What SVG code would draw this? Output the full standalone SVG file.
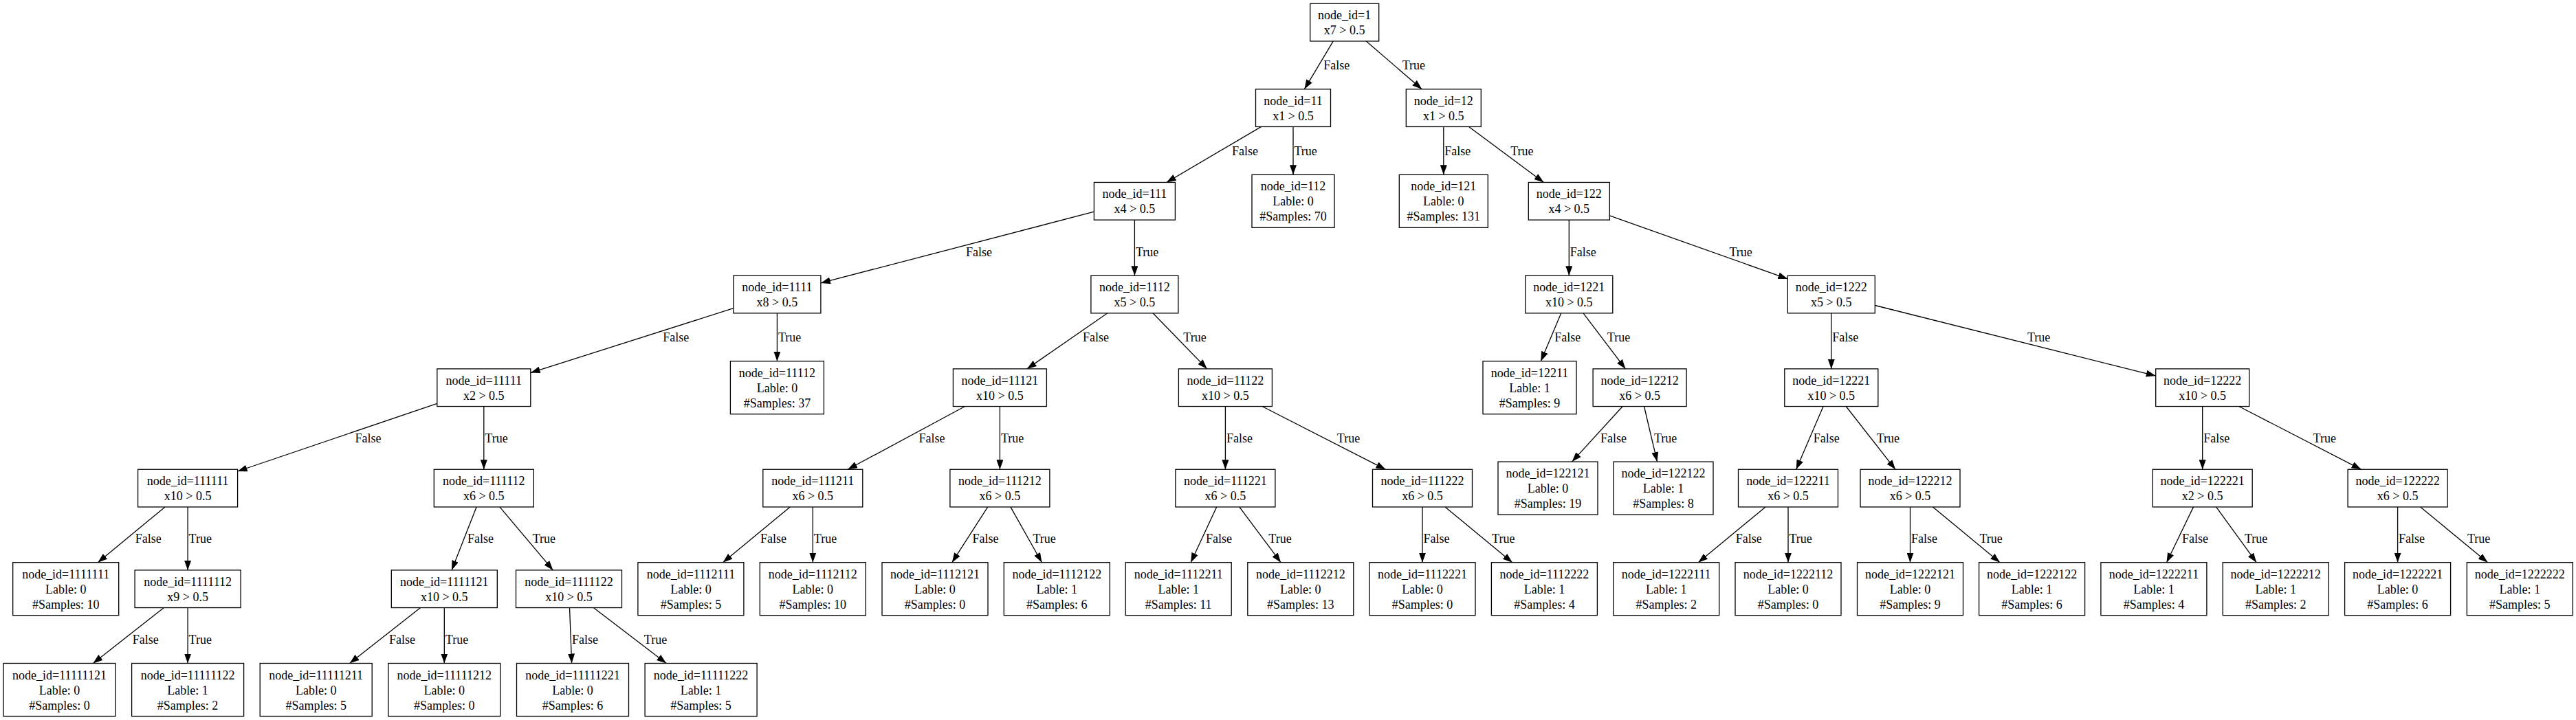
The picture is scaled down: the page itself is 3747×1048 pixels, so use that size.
<svg xmlns="http://www.w3.org/2000/svg" width="3747" height="1048" viewBox="0 0 3747 1048">
<style>
text{font-family:"Liberation Serif","Times New Roman",serif;font-size:18px;fill:#000}
.n rect{fill:#fff;stroke:#000;stroke-width:1.3}
.n text{text-anchor:middle}
#edges line{stroke:#000;stroke-width:1.3;marker-end:url(#arr)}
</style>
<defs>
<marker id="arr" markerUnits="userSpaceOnUse" markerWidth="14" markerHeight="10" refX="14" refY="5" orient="auto" viewBox="0 0 14 10"><path d="M0,0 L14,5 L0,10 z" fill="#000"/></marker>
</defs>
<rect width="3747" height="1048" fill="#fff"/>
<g id="edges">
<line x1="1939.3" y1="59.9" x2="1897.4" y2="129.8"/><text x="1925.2" y="101.4">False</text>
<line x1="1987.3" y1="59.9" x2="2068.2" y2="129.8"/><text x="2039.7" y="101.4">True</text>
<line x1="1834.6" y1="184.4" x2="1696.8" y2="265.5"/><text x="1791.9" y="225.9">False</text>
<line x1="1881" y1="184.4" x2="1881" y2="254.3"/><text x="1882.5" y="225.9">True</text>
<line x1="2099.8" y1="184.4" x2="2099.8" y2="254.3"/><text x="2101.3" y="225.9">False</text>
<line x1="2136.6" y1="184.4" x2="2245.5" y2="265.5"/><text x="2197.2" y="225.9">True</text>
<line x1="1591.4" y1="308.2" x2="1193.9" y2="411.9"/><text x="1405.1" y="372.7">False</text>
<line x1="1650.4" y1="320.1" x2="1650.4" y2="401.2"/><text x="1651.9" y="372.7">True</text>
<line x1="2282.3" y1="320.1" x2="2282.3" y2="401.2"/><text x="2283.8" y="372.7">False</text>
<line x1="2341.3" y1="313.8" x2="2600.3" y2="405.9"/><text x="2515.4" y="372.7">True</text>
<line x1="1066.9" y1="448.7" x2="771.8" y2="542.6"/><text x="964.3" y="497.3">False</text>
<line x1="1130.4" y1="455.8" x2="1130.4" y2="525.7"/><text x="1131.9" y="497.3">True</text>
<line x1="1610.9" y1="455.8" x2="1493.9" y2="536.9"/><text x="1574.9" y="497.3">False</text>
<line x1="1677" y1="455.8" x2="1755.8" y2="536.9"/><text x="1721.3" y="497.3">True</text>
<line x1="2270.8" y1="455.8" x2="2241.3" y2="525.7"/><text x="2261.3" y="497.3">False</text>
<line x1="2303" y1="455.8" x2="2364.4" y2="536.9"/><text x="2337.8" y="497.3">True</text>
<line x1="2663.8" y1="455.8" x2="2663.8" y2="536.9"/><text x="2665.3" y="497.3">False</text>
<line x1="2727.3" y1="444.5" x2="3135.7" y2="547.1"/><text x="2949" y="497.3">True</text>
<line x1="635.8" y1="587.3" x2="345.6" y2="686"/><text x="516.4" y="643.9">False</text>
<line x1="703.8" y1="591.5" x2="703.8" y2="683.3"/><text x="705.3" y="643.9">True</text>
<line x1="1403.6" y1="591.5" x2="1233.1" y2="683.3"/><text x="1336.6" y="643.9">False</text>
<line x1="1454.4" y1="591.5" x2="1454.4" y2="683.3"/><text x="1455.9" y="643.9">True</text>
<line x1="1782.4" y1="591.5" x2="1782.4" y2="683.3"/><text x="1783.9" y="643.9">False</text>
<line x1="1835.9" y1="591.5" x2="2015.5" y2="683.3"/><text x="1944.8" y="643.9">True</text>
<line x1="2360.2" y1="591.5" x2="2286.6" y2="672.1"/><text x="2328" y="643.9">False</text>
<line x1="2391.5" y1="591.5" x2="2410.5" y2="672.1"/><text x="2405.9" y="643.9">True</text>
<line x1="2652.1" y1="591.5" x2="2612.7" y2="683.3"/><text x="2637.8" y="643.9">False</text>
<line x1="2685.2" y1="591.5" x2="2757.1" y2="683.3"/><text x="2729.7" y="643.9">True</text>
<line x1="3203.7" y1="591.5" x2="3203.7" y2="683.3"/><text x="3205.2" y="643.9">False</text>
<line x1="3256.7" y1="591.5" x2="3434.6" y2="683.3"/><text x="3364.6" y="643.9">True</text>
<line x1="240" y1="737.9" x2="142.3" y2="818.7"/><text x="196.8" y="790.4">False</text>
<line x1="273.1" y1="737.9" x2="273.1" y2="829.9"/><text x="274.6" y="790.4">True</text>
<line x1="693.1" y1="737.9" x2="657" y2="829.9"/><text x="680.1" y="790.4">False</text>
<line x1="726.9" y1="737.9" x2="804.4" y2="829.9"/><text x="774.7" y="790.4">True</text>
<line x1="1149.2" y1="737.9" x2="1051.5" y2="818.7"/><text x="1106" y="790.4">False</text>
<line x1="1182.3" y1="737.9" x2="1182.3" y2="818.7"/><text x="1183.8" y="790.4">True</text>
<line x1="1436.8" y1="737.9" x2="1384.8" y2="818.7"/><text x="1414.5" y="790.4">False</text>
<line x1="1469.9" y1="737.9" x2="1515.5" y2="818.7"/><text x="1502.4" y="790.4">True</text>
<line x1="1769.7" y1="737.9" x2="1732.1" y2="818.7"/><text x="1754" y="790.4">False</text>
<line x1="1802.8" y1="737.9" x2="1863.1" y2="818.7"/><text x="1845.3" y="790.4">True</text>
<line x1="2069" y1="737.9" x2="2069" y2="818.7"/><text x="2070.5" y="790.4">False</text>
<line x1="2102.1" y1="737.9" x2="2199.8" y2="818.7"/><text x="2170.1" y="790.4">True</text>
<line x1="2568" y1="737.9" x2="2470.3" y2="818.7"/><text x="2524.7" y="790.4">False</text>
<line x1="2601" y1="737.9" x2="2601" y2="818.7"/><text x="2602.5" y="790.4">True</text>
<line x1="2778.5" y1="737.9" x2="2778.5" y2="818.7"/><text x="2780" y="790.4">False</text>
<line x1="2811.5" y1="737.9" x2="2909.1" y2="818.7"/><text x="2879.4" y="790.4">True</text>
<line x1="3190.5" y1="737.9" x2="3151.5" y2="818.7"/><text x="3174.1" y="790.4">False</text>
<line x1="3223.6" y1="737.9" x2="3282.2" y2="818.7"/><text x="3265" y="790.4">True</text>
<line x1="3487.6" y1="737.9" x2="3487.6" y2="818.7"/><text x="3489.1" y="790.4">False</text>
<line x1="3520.7" y1="737.9" x2="3618.6" y2="818.7"/><text x="3588.9" y="790.4">True</text>
<line x1="238.4" y1="884.5" x2="135.4" y2="965.5"/><text x="192.7" y="937.1">False</text>
<line x1="273.1" y1="884.5" x2="273.1" y2="965.5"/><text x="274.6" y="937.1">True</text>
<line x1="611.6" y1="884.5" x2="508.6" y2="965.5"/><text x="565.9" y="937.1">False</text>
<line x1="646.3" y1="884.5" x2="646.3" y2="965.5"/><text x="647.8" y="937.1">True</text>
<line x1="828.5" y1="884.5" x2="831.6" y2="965.5"/><text x="832.1" y="937.1">False</text>
<line x1="863.3" y1="884.5" x2="969.2" y2="965.5"/><text x="936.8" y="937.1">True</text>
</g>
<g id="n1" class="n"><rect x="1905.7" y="5.27" width="100" height="54.67"/><text x="1955.7" y="28.1">node_id=1<tspan x="1955.7" dy="22">x7 &gt; 0.5</tspan></text></g>
<g id="n11" class="n"><rect x="1826.5" y="129.77" width="109" height="54.67"/><text x="1881" y="152.6">node_id=11<tspan x="1881" dy="22">x1 &gt; 0.5</tspan></text></g>
<g id="n12" class="n"><rect x="2045.3" y="129.77" width="109" height="54.67"/><text x="2099.8" y="152.6">node_id=12<tspan x="2099.8" dy="22">x1 &gt; 0.5</tspan></text></g>
<g id="n111" class="n"><rect x="1591.4" y="265.47" width="118" height="54.67"/><text x="1650.4" y="288.3">node_id=111<tspan x="1650.4" dy="22">x4 &gt; 0.5</tspan></text></g>
<g id="n112" class="n"><rect x="1821" y="254.3" width="120" height="77"/><text x="1881" y="277.3">node_id=112<tspan x="1881" dy="22">Lable: 0</tspan><tspan x="1881" dy="22">#Samples: 70</tspan></text></g>
<g id="n121" class="n"><rect x="2035.3" y="254.3" width="129" height="77"/><text x="2099.8" y="277.3">node_id=121<tspan x="2099.8" dy="22">Lable: 0</tspan><tspan x="2099.8" dy="22">#Samples: 131</tspan></text></g>
<g id="n122" class="n"><rect x="2223.3" y="265.47" width="118" height="54.67"/><text x="2282.3" y="288.3">node_id=122<tspan x="2282.3" dy="22">x4 &gt; 0.5</tspan></text></g>
<g id="n1111" class="n"><rect x="1066.9" y="401.17" width="127" height="54.67"/><text x="1130.4" y="424">node_id=1111<tspan x="1130.4" dy="22">x8 &gt; 0.5</tspan></text></g>
<g id="n1112" class="n"><rect x="1586.9" y="401.17" width="127" height="54.67"/><text x="1650.4" y="424">node_id=1112<tspan x="1650.4" dy="22">x5 &gt; 0.5</tspan></text></g>
<g id="n1221" class="n"><rect x="2218.8" y="401.17" width="127" height="54.67"/><text x="2282.3" y="424">node_id=1221<tspan x="2282.3" dy="22">x10 &gt; 0.5</tspan></text></g>
<g id="n1222" class="n"><rect x="2600.3" y="401.17" width="127" height="54.67"/><text x="2663.8" y="424">node_id=1222<tspan x="2663.8" dy="22">x5 &gt; 0.5</tspan></text></g>
<g id="n11111" class="n"><rect x="635.8" y="536.87" width="136" height="54.67"/><text x="703.8" y="559.7">node_id=11111<tspan x="703.8" dy="22">x2 &gt; 0.5</tspan></text></g>
<g id="n11112" class="n"><rect x="1062.4" y="525.7" width="136" height="77"/><text x="1130.4" y="548.7">node_id=11112<tspan x="1130.4" dy="22">Lable: 0</tspan><tspan x="1130.4" dy="22">#Samples: 37</tspan></text></g>
<g id="n11121" class="n"><rect x="1386.4" y="536.87" width="136" height="54.67"/><text x="1454.4" y="559.7">node_id=11121<tspan x="1454.4" dy="22">x10 &gt; 0.5</tspan></text></g>
<g id="n11122" class="n"><rect x="1714.4" y="536.87" width="136" height="54.67"/><text x="1782.4" y="559.7">node_id=11122<tspan x="1782.4" dy="22">x10 &gt; 0.5</tspan></text></g>
<g id="n12211" class="n"><rect x="2157" y="525.7" width="136" height="77"/><text x="2225" y="548.7">node_id=12211<tspan x="2225" dy="22">Lable: 1</tspan><tspan x="2225" dy="22">#Samples: 9</tspan></text></g>
<g id="n12212" class="n"><rect x="2317.1" y="536.87" width="136" height="54.67"/><text x="2385.1" y="559.7">node_id=12212<tspan x="2385.1" dy="22">x6 &gt; 0.5</tspan></text></g>
<g id="n12221" class="n"><rect x="2595.8" y="536.87" width="136" height="54.67"/><text x="2663.8" y="559.7">node_id=12221<tspan x="2663.8" dy="22">x10 &gt; 0.5</tspan></text></g>
<g id="n12222" class="n"><rect x="3135.7" y="536.87" width="136" height="54.67"/><text x="3203.7" y="559.7">node_id=12222<tspan x="3203.7" dy="22">x10 &gt; 0.5</tspan></text></g>
<g id="n111111" class="n"><rect x="200.6" y="683.27" width="145" height="54.67"/><text x="273.1" y="706.1">node_id=111111<tspan x="273.1" dy="22">x10 &gt; 0.5</tspan></text></g>
<g id="n111112" class="n"><rect x="631.3" y="683.27" width="145" height="54.67"/><text x="703.8" y="706.1">node_id=111112<tspan x="703.8" dy="22">x6 &gt; 0.5</tspan></text></g>
<g id="n111211" class="n"><rect x="1109.8" y="683.27" width="145" height="54.67"/><text x="1182.3" y="706.1">node_id=111211<tspan x="1182.3" dy="22">x6 &gt; 0.5</tspan></text></g>
<g id="n111212" class="n"><rect x="1381.9" y="683.27" width="145" height="54.67"/><text x="1454.4" y="706.1">node_id=111212<tspan x="1454.4" dy="22">x6 &gt; 0.5</tspan></text></g>
<g id="n111221" class="n"><rect x="1709.9" y="683.27" width="145" height="54.67"/><text x="1782.4" y="706.1">node_id=111221<tspan x="1782.4" dy="22">x6 &gt; 0.5</tspan></text></g>
<g id="n111222" class="n"><rect x="1996.5" y="683.27" width="145" height="54.67"/><text x="2069" y="706.1">node_id=111222<tspan x="2069" dy="22">x6 &gt; 0.5</tspan></text></g>
<g id="n122121" class="n"><rect x="2179" y="672.1" width="145" height="77"/><text x="2251.5" y="695.1">node_id=122121<tspan x="2251.5" dy="22">Lable: 0</tspan><tspan x="2251.5" dy="22">#Samples: 19</tspan></text></g>
<g id="n122122" class="n"><rect x="2347" y="672.1" width="145" height="77"/><text x="2419.5" y="695.1">node_id=122122<tspan x="2419.5" dy="22">Lable: 1</tspan><tspan x="2419.5" dy="22">#Samples: 8</tspan></text></g>
<g id="n122211" class="n"><rect x="2528.5" y="683.27" width="145" height="54.67"/><text x="2601" y="706.1">node_id=122211<tspan x="2601" dy="22">x6 &gt; 0.5</tspan></text></g>
<g id="n122212" class="n"><rect x="2706" y="683.27" width="145" height="54.67"/><text x="2778.5" y="706.1">node_id=122212<tspan x="2778.5" dy="22">x6 &gt; 0.5</tspan></text></g>
<g id="n122221" class="n"><rect x="3131.2" y="683.27" width="145" height="54.67"/><text x="3203.7" y="706.1">node_id=122221<tspan x="3203.7" dy="22">x2 &gt; 0.5</tspan></text></g>
<g id="n122222" class="n"><rect x="3415.1" y="683.27" width="145" height="54.67"/><text x="3487.6" y="706.1">node_id=122222<tspan x="3487.6" dy="22">x6 &gt; 0.5</tspan></text></g>
<g id="n1111111" class="n"><rect x="18.7" y="818.7" width="154" height="77"/><text x="95.7" y="841.7">node_id=1111111<tspan x="95.7" dy="22">Lable: 0</tspan><tspan x="95.7" dy="22">#Samples: 10</tspan></text></g>
<g id="n1111112" class="n"><rect x="196.1" y="829.87" width="154" height="54.67"/><text x="273.1" y="852.7">node_id=1111112<tspan x="273.1" dy="22">x9 &gt; 0.5</tspan></text></g>
<g id="n1111121" class="n"><rect x="569.3" y="829.87" width="154" height="54.67"/><text x="646.3" y="852.7">node_id=1111121<tspan x="646.3" dy="22">x10 &gt; 0.5</tspan></text></g>
<g id="n1111122" class="n"><rect x="750.5" y="829.87" width="154" height="54.67"/><text x="827.5" y="852.7">node_id=1111122<tspan x="827.5" dy="22">x10 &gt; 0.5</tspan></text></g>
<g id="n1112111" class="n"><rect x="927.9" y="818.7" width="154" height="77"/><text x="1004.9" y="841.7">node_id=1112111<tspan x="1004.9" dy="22">Lable: 0</tspan><tspan x="1004.9" dy="22">#Samples: 5</tspan></text></g>
<g id="n1112112" class="n"><rect x="1105.3" y="818.7" width="154" height="77"/><text x="1182.3" y="841.7">node_id=1112112<tspan x="1182.3" dy="22">Lable: 0</tspan><tspan x="1182.3" dy="22">#Samples: 10</tspan></text></g>
<g id="n1112121" class="n"><rect x="1283" y="818.7" width="154" height="77"/><text x="1360" y="841.7">node_id=1112121<tspan x="1360" dy="22">Lable: 0</tspan><tspan x="1360" dy="22">#Samples: 0</tspan></text></g>
<g id="n1112122" class="n"><rect x="1460.3" y="818.7" width="154" height="77"/><text x="1537.3" y="841.7">node_id=1112122<tspan x="1537.3" dy="22">Lable: 1</tspan><tspan x="1537.3" dy="22">#Samples: 6</tspan></text></g>
<g id="n1112211" class="n"><rect x="1637.2" y="818.7" width="154" height="77"/><text x="1714.2" y="841.7">node_id=1112211<tspan x="1714.2" dy="22">Lable: 1</tspan><tspan x="1714.2" dy="22">#Samples: 11</tspan></text></g>
<g id="n1112212" class="n"><rect x="1814.8" y="818.7" width="154" height="77"/><text x="1891.8" y="841.7">node_id=1112212<tspan x="1891.8" dy="22">Lable: 0</tspan><tspan x="1891.8" dy="22">#Samples: 13</tspan></text></g>
<g id="n1112221" class="n"><rect x="1992" y="818.7" width="154" height="77"/><text x="2069" y="841.7">node_id=1112221<tspan x="2069" dy="22">Lable: 0</tspan><tspan x="2069" dy="22">#Samples: 0</tspan></text></g>
<g id="n1112222" class="n"><rect x="2169.4" y="818.7" width="154" height="77"/><text x="2246.4" y="841.7">node_id=1112222<tspan x="2246.4" dy="22">Lable: 1</tspan><tspan x="2246.4" dy="22">#Samples: 4</tspan></text></g>
<g id="n1222111" class="n"><rect x="2346.7" y="818.7" width="154" height="77"/><text x="2423.7" y="841.7">node_id=1222111<tspan x="2423.7" dy="22">Lable: 1</tspan><tspan x="2423.7" dy="22">#Samples: 2</tspan></text></g>
<g id="n1222112" class="n"><rect x="2524" y="818.7" width="154" height="77"/><text x="2601" y="841.7">node_id=1222112<tspan x="2601" dy="22">Lable: 0</tspan><tspan x="2601" dy="22">#Samples: 0</tspan></text></g>
<g id="n1222121" class="n"><rect x="2701.5" y="818.7" width="154" height="77"/><text x="2778.5" y="841.7">node_id=1222121<tspan x="2778.5" dy="22">Lable: 0</tspan><tspan x="2778.5" dy="22">#Samples: 9</tspan></text></g>
<g id="n1222122" class="n"><rect x="2878.6" y="818.7" width="154" height="77"/><text x="2955.6" y="841.7">node_id=1222122<tspan x="2955.6" dy="22">Lable: 1</tspan><tspan x="2955.6" dy="22">#Samples: 6</tspan></text></g>
<g id="n1222211" class="n"><rect x="3055.9" y="818.7" width="154" height="77"/><text x="3132.9" y="841.7">node_id=1222211<tspan x="3132.9" dy="22">Lable: 1</tspan><tspan x="3132.9" dy="22">#Samples: 4</tspan></text></g>
<g id="n1222212" class="n"><rect x="3233.2" y="818.7" width="154" height="77"/><text x="3310.2" y="841.7">node_id=1222212<tspan x="3310.2" dy="22">Lable: 1</tspan><tspan x="3310.2" dy="22">#Samples: 2</tspan></text></g>
<g id="n1222221" class="n"><rect x="3410.6" y="818.7" width="154" height="77"/><text x="3487.6" y="841.7">node_id=1222221<tspan x="3487.6" dy="22">Lable: 0</tspan><tspan x="3487.6" dy="22">#Samples: 6</tspan></text></g>
<g id="n1222222" class="n"><rect x="3588.3" y="818.7" width="154" height="77"/><text x="3665.3" y="841.7">node_id=1222222<tspan x="3665.3" dy="22">Lable: 1</tspan><tspan x="3665.3" dy="22">#Samples: 5</tspan></text></g>
<g id="n11111121" class="n"><rect x="5" y="965.5" width="163" height="77"/><text x="86.5" y="988.5">node_id=11111121<tspan x="86.5" dy="22">Lable: 0</tspan><tspan x="86.5" dy="22">#Samples: 0</tspan></text></g>
<g id="n11111122" class="n"><rect x="191.6" y="965.5" width="163" height="77"/><text x="273.1" y="988.5">node_id=11111122<tspan x="273.1" dy="22">Lable: 1</tspan><tspan x="273.1" dy="22">#Samples: 2</tspan></text></g>
<g id="n11111211" class="n"><rect x="378.2" y="965.5" width="163" height="77"/><text x="459.7" y="988.5">node_id=11111211<tspan x="459.7" dy="22">Lable: 0</tspan><tspan x="459.7" dy="22">#Samples: 5</tspan></text></g>
<g id="n11111212" class="n"><rect x="564.8" y="965.5" width="163" height="77"/><text x="646.3" y="988.5">node_id=11111212<tspan x="646.3" dy="22">Lable: 0</tspan><tspan x="646.3" dy="22">#Samples: 0</tspan></text></g>
<g id="n11111221" class="n"><rect x="751.5" y="965.5" width="163" height="77"/><text x="833" y="988.5">node_id=11111221<tspan x="833" dy="22">Lable: 0</tspan><tspan x="833" dy="22">#Samples: 6</tspan></text></g>
<g id="n11111222" class="n"><rect x="938.1" y="965.5" width="163" height="77"/><text x="1019.6" y="988.5">node_id=11111222<tspan x="1019.6" dy="22">Lable: 1</tspan><tspan x="1019.6" dy="22">#Samples: 5</tspan></text></g>
</svg>
